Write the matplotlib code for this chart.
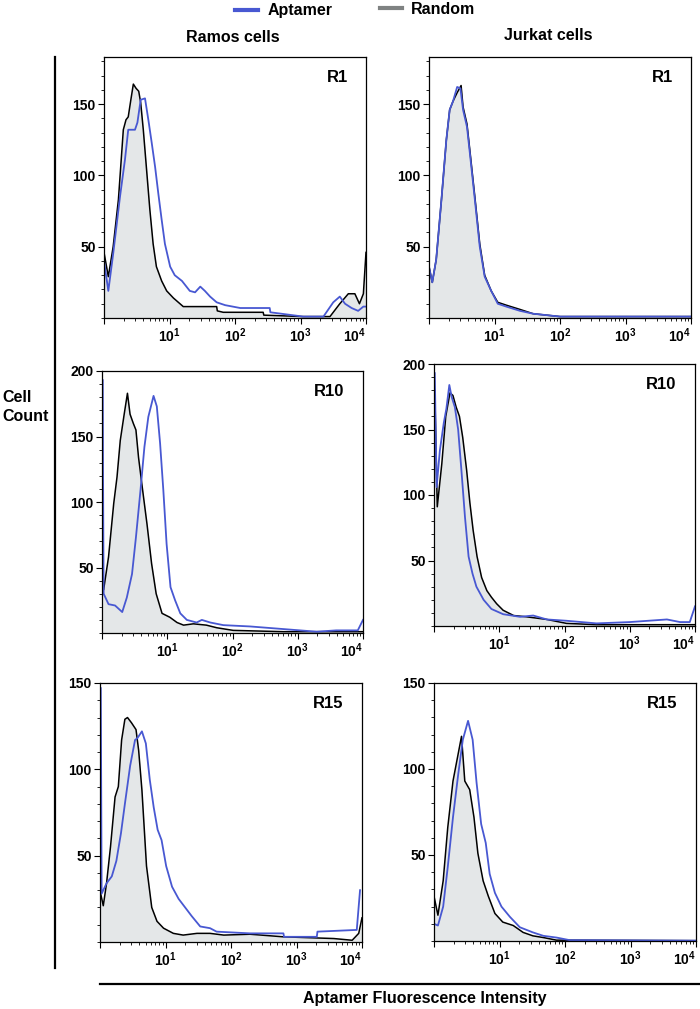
import numpy as np
import matplotlib
matplotlib.use("Agg")
import matplotlib.pyplot as plt
from matplotlib.ticker import MultipleLocator, LogLocator, NullFormatter
from matplotlib.lines import Line2D

plt.rcParams['font.family'] = ['Liberation Sans', 'DejaVu Sans']
plt.rcParams['font.weight'] = 'bold'
plt.rcParams['mathtext.fontset'] = 'custom'
plt.rcParams['mathtext.rm'] = 'Liberation Sans:bold'
plt.rcParams['mathtext.default'] = 'rm'

BLUE = '#4858d2'
FILL = '#e4e7e8'

# histogram traces: x as log10(intensity), y as cell count
# Ramos R1
ramos_r1_rand_x = [0, 0.066, 0.14, 0.22, 0.295, 0.336, 0.37, 0.41, 0.448, 0.49, 0.53, 0.56, 0.60, 0.65, 0.70, 0.75, 0.80, 0.88, 0.957, 1.06, 1.16, 1.21, 1.72, 1.73, 1.82, 2.43, 2.44, 3.04, 3.45, 3.6, 3.73, 3.83, 3.9, 3.96, 4.0]
ramos_r1_rand_y = [46, 29, 50, 83, 132, 139, 141, 153, 164, 161, 159, 151, 132, 104, 76, 52, 36, 26, 19, 14, 10, 8, 8, 5, 4, 4, 2, 1, 1, 10, 17, 17, 10, 17, 46]
ramos_r1_apt_x = [0, 0.066, 0.14, 0.244, 0.32, 0.37, 0.473, 0.51, 0.56, 0.626, 0.677, 0.728, 0.78, 0.83, 0.88, 0.93, 1.01, 1.08, 1.19, 1.31, 1.39, 1.47, 1.54, 1.62, 1.72, 1.85, 2.08, 2.53, 2.54, 3.04, 3.35, 3.5, 3.6, 3.68, 3.78, 3.88, 3.96, 4.0]
ramos_r1_apt_y = [40, 19, 45, 85, 111, 132, 132, 137, 153, 154, 139, 123, 106, 87, 69, 52, 36, 30, 26, 19, 18, 22, 19, 15, 11, 9, 7, 7, 4, 1, 1, 11, 15, 10, 7, 5, 8, 8]

# Jurkat R1
jurkat_r1_rand_x = [0, 0.05, 0.11, 0.19, 0.265, 0.316, 0.367, 0.43, 0.49, 0.52, 0.58, 0.63, 0.70, 0.775, 0.85, 0.95, 1.05, 1.18, 1.39, 1.59, 2.0, 4.0]
jurkat_r1_rand_y = [36, 25, 41, 83, 125, 146, 152, 158, 163, 148, 136, 115, 85, 52, 30, 19, 11, 9, 6, 3, 1, 1]
jurkat_r1_apt_x = [0, 0.05, 0.11, 0.19, 0.265, 0.316, 0.367, 0.43, 0.48, 0.52, 0.58, 0.63, 0.70, 0.775, 0.85, 0.95, 1.05, 1.18, 1.39, 1.59, 2.0, 4.0]
jurkat_r1_apt_y = [36, 25, 41, 83, 125, 146, 152, 162, 161, 146, 134, 113, 83, 50, 29, 19, 10, 8, 5, 3, 1, 1]

# Ramos R10
ramos_r10_rand_x = [0.01, 0.025, 0.10, 0.18, 0.23, 0.28, 0.34, 0.39, 0.43, 0.48, 0.52, 0.56, 0.61, 0.69, 0.76, 0.83, 0.92, 1.04, 1.15, 1.25, 1.40, 1.60, 1.76, 2.01, 2.78, 4.0]
ramos_r10_rand_y = [40, 33, 58, 99, 119, 147, 167, 183, 167, 160, 155, 134, 114, 83, 53, 30, 15, 12, 8, 6, 7, 6, 4, 2, 1, 1]
ramos_r10_apt_x = [0.012, 0.016, 0.025, 0.10, 0.20, 0.31, 0.38, 0.46, 0.52, 0.59, 0.65, 0.71, 0.76, 0.79, 0.84, 0.89, 0.94, 0.99, 1.05, 1.12, 1.20, 1.30, 1.45, 1.53, 1.66, 1.86, 2.27, 2.78, 3.29, 3.59, 3.92, 4.0]
ramos_r10_apt_y = [193, 120, 30, 22, 21, 16, 27, 45, 73, 109, 142, 165, 175, 181, 173, 145, 109, 68, 35, 25, 15, 10, 8, 10, 8, 6, 5, 3, 1, 2, 2, 10]

# Jurkat R10
jurkat_r10_rand_x = [0.012, 0.05, 0.12, 0.18, 0.245, 0.29, 0.34, 0.39, 0.44, 0.50, 0.55, 0.60, 0.66, 0.73, 0.81, 0.88, 0.96, 1.06, 1.22, 1.42, 1.73, 2.03, 2.49, 4.0]
jurkat_r10_rand_y = [180, 91, 124, 160, 178, 176, 167, 160, 144, 119, 94, 73, 53, 37, 27, 22, 17, 12, 8, 7, 5, 2, 1, 1]
jurkat_r10_apt_x = [0.012, 0.04, 0.09, 0.15, 0.19, 0.235, 0.27, 0.32, 0.37, 0.42, 0.475, 0.53, 0.59, 0.65, 0.76, 0.88, 1.06, 1.32, 1.52, 1.73, 2.03, 2.49, 3.0, 3.57, 3.77, 3.92, 4.0]
jurkat_r10_apt_y = [193, 106, 134, 155, 166, 184, 175, 167, 150, 119, 83, 53, 40, 30, 20, 13, 9, 7, 8, 5, 4, 2, 3, 5, 3, 3, 15]

# Ramos R15
ramos_r15_rand_x = [0.01, 0.05, 0.10, 0.16, 0.23, 0.28, 0.33, 0.38, 0.42, 0.48, 0.55, 0.59, 0.64, 0.71, 0.79, 0.87, 0.97, 1.12, 1.27, 1.48, 1.68, 1.89, 2.29, 2.80, 3.57, 3.85, 3.95, 4.0]
ramos_r15_rand_y = [28, 21, 34, 55, 84, 90, 117, 129, 130, 127, 123, 111, 88, 44, 20, 12, 8, 5, 4, 5, 5, 4, 4.5, 3, 2, 1, 5, 14]
ramos_r15_apt_x = [0.012, 0.025, 0.10, 0.18, 0.25, 0.32, 0.38, 0.46, 0.535, 0.57, 0.64, 0.70, 0.76, 0.82, 0.88, 0.94, 1.01, 1.10, 1.20, 1.30, 1.40, 1.53, 1.68, 1.78, 2.29, 2.80, 2.81, 3.31, 3.32, 3.92, 3.97]
ramos_r15_apt_y = [147, 28, 34, 38, 47, 63, 80, 102, 117, 118, 122, 115, 94, 78, 65, 59, 44, 32, 25, 20, 15, 9, 8, 6, 5, 5, 3, 3, 6, 7, 30]

# Jurkat R15
jurkat_r15_rand_x = [0, 0.06, 0.14, 0.21, 0.29, 0.34, 0.38, 0.42, 0.47, 0.545, 0.61, 0.67, 0.75, 0.83, 0.93, 1.05, 1.21, 1.36, 1.51, 1.67, 1.87, 4.0]
jurkat_r15_rand_y = [26, 15, 35, 66, 93, 103, 111, 119, 93, 88, 72, 51, 35, 26, 16, 11, 9, 5, 3, 2, 0.5, 0.2]
jurkat_r15_apt_x = [0, 0.06, 0.14, 0.21, 0.29, 0.37, 0.44, 0.52, 0.59, 0.65, 0.72, 0.79, 0.85, 0.93, 1.03, 1.16, 1.31, 1.51, 1.67, 1.87, 2.07, 4.0]
jurkat_r15_apt_y = [10, 9, 20, 43, 72, 97, 117, 128, 117, 92, 68, 57, 39, 28, 20, 14, 8, 5, 3, 2, 0.5, 0.2]

panels = [
    # left, right, top, bottom (px), ymax, yticks, tag, random x/y, aptamer x/y
    (104, 366, 57, 318, 183, [50, 100, 150], 'R1', ramos_r1_rand_x, ramos_r1_rand_y, ramos_r1_apt_x, ramos_r1_apt_y),
    (429, 691, 57, 318, 183, [50, 100, 150], 'R1', jurkat_r1_rand_x, jurkat_r1_rand_y, jurkat_r1_apt_x, jurkat_r1_apt_y),
    (102, 363, 371, 633, 200, [50, 100, 150, 200], 'R10', ramos_r10_rand_x, ramos_r10_rand_y, ramos_r10_apt_x, ramos_r10_apt_y),
    (434, 695, 364, 626, 200, [50, 100, 150, 200], 'R10', jurkat_r10_rand_x, jurkat_r10_rand_y, jurkat_r10_apt_x, jurkat_r10_apt_y),
    (100, 362, 683, 942, 150, [50, 100, 150], 'R15', ramos_r15_rand_x, ramos_r15_rand_y, ramos_r15_apt_x, ramos_r15_apt_y),
    (434, 696, 683, 941, 150, [50, 100, 150], 'R15', jurkat_r15_rand_x, jurkat_r15_rand_y, jurkat_r15_apt_x, jurkat_r15_apt_y),
]

W, H = 700, 1009
fig = plt.figure(figsize=(W / 100, H / 100), dpi=100)

for (l, r, t, b, ymax, yt, tag, rx, ry, ax_, ay) in panels:
    ax = fig.add_axes([l / W, 1 - b / H, (r - l) / W, (b - t) / H])
    rx = np.power(10.0, rx)
    ax_ = np.power(10.0, ax_)
    ax.fill_between(rx, ry, 0, color=FILL, lw=0)
    ax.plot(rx, ry, color='black', lw=1.1)
    ax.plot(ax_, ay, color=BLUE, lw=1.3)
    ax.set_xscale('log')
    ax.set_xlim(1, 1e4)
    ax.set_ylim(0, ymax)
    ax.set_xticks([1, 10, 100, 1000, 10000], ['', '$10^1$', '$10^2$', '$10^3$', '$10^4$'])
    ax.get_xticklabels()[-1].set_horizontalalignment('right')
    ax.xaxis.set_minor_locator(LogLocator(base=10, subs=np.arange(2, 10)))
    ax.xaxis.set_minor_formatter(NullFormatter())
    ax.set_yticks(yt)
    ax.yaxis.set_minor_locator(MultipleLocator(10))
    ax.tick_params(direction='out', labelsize=10, length=4, width=0.8, pad=2)
    ax.tick_params(which='minor', length=2, width=0.6)
    for s in ax.spines.values():
        s.set_linewidth(0.9)
    ax.text(0.93, 0.92, tag, transform=ax.transAxes, ha='right', va='center',
            fontsize=12, fontweight='bold')

# frame lines and labels
fig.add_artist(Line2D([55 / W, 55 / W], [1 - 57 / H, 1 - 968 / H], color='black', lw=1.6))
fig.add_artist(Line2D([100 / W, 700 / W], [1 - 984 / H, 1 - 984 / H], color='black', lw=1.6))
fig.text(2 / W, 1 - 407 / H, 'Cell\nCount', ha='left', va='center', fontsize=11.5,
         fontweight='bold', linespacing=1.3)
fig.text(425 / W, 1 - 999 / H, 'Aptamer Fluorescence Intensity', ha='center', va='center',
         fontsize=11.5, fontweight='bold')
fig.text(233 / W, 1 - 38 / H, 'Ramos cells', ha='center', va='center', fontsize=11.5, fontweight='bold')
fig.text(548 / W, 1 - 35 / H, 'Jurkat cells', ha='center', va='center', fontsize=11.5, fontweight='bold')

# legend
fig.add_artist(Line2D([235 / W, 258 / W], [1 - 10 / H, 1 - 10 / H], color=BLUE, lw=3))
fig.text(268 / W, 1 - 11 / H, 'Aptamer', ha='left', va='center', fontsize=11.5, fontweight='bold')
fig.add_artist(Line2D([380 / W, 402 / W], [1 - 8 / H, 1 - 8 / H], color='#7f8282', lw=3))
fig.text(411 / W, 1 - 9 / H, 'Random', ha='left', va='center', fontsize=11.5, fontweight='bold')

fig.savefig('out.png', dpi=100)
